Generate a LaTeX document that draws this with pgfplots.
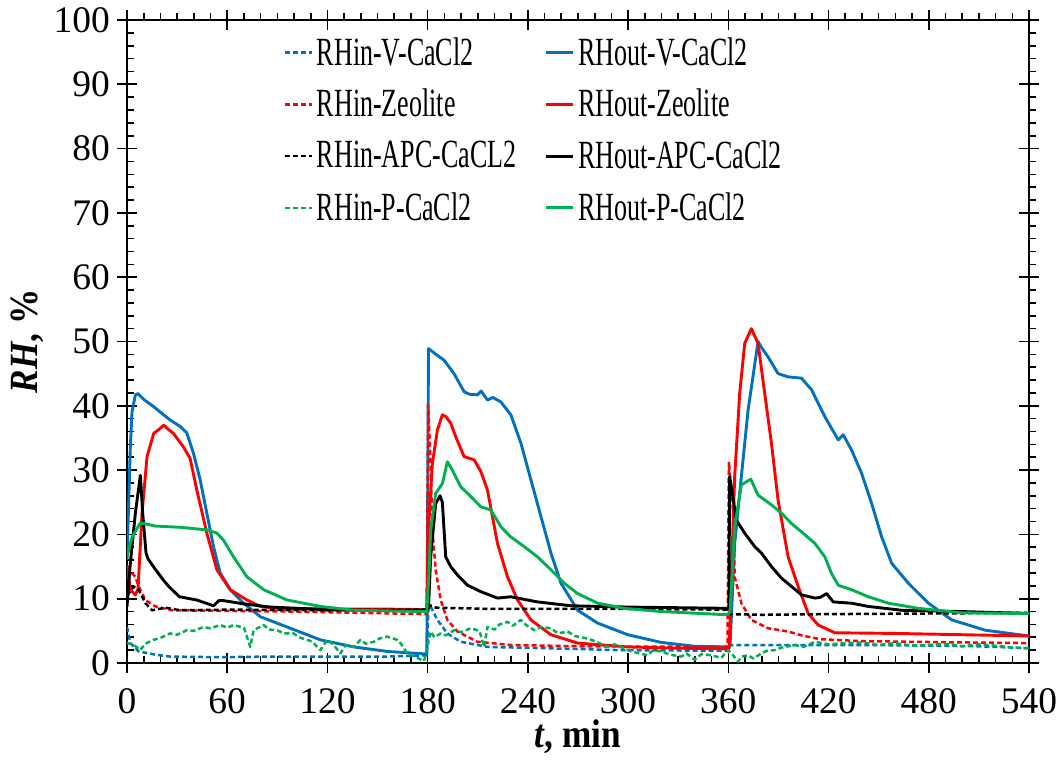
\documentclass[border=0pt]{standalone}
\usepackage{fontspec}
\setmainfont{Liberation Serif}
\usepackage{pgfplots}
\pgfplotsset{compat=1.18}
\definecolor{cblue}{HTML}{0070C0}
\definecolor{cred}{HTML}{FF0000}
\definecolor{cgreen}{HTML}{00B050}
\newcommand{\legtxt}[1]{\scalebox{0.65}[1]{\fontsize{20}{24}\selectfont #1}}
\newcommand{\tl}[1]{\fontsize{18.75}{22}\selectfont #1}
\begin{document}
\begin{tikzpicture}
\useasboundingbox (0,0) rectangle (532pt,383.5pt);
\begin{axis}[
  at={(63.5pt,52pt)}, anchor=south west,
  scale only axis, width=451pt, height=321.5pt,
  xmin=0, xmax=540, ymin=0, ymax=100,
  xtick={0,60,120,180,240,300,360,420,480,540},
  xticklabels={\tl{0},\tl{60},\tl{120},\tl{180},\tl{240},\tl{300},\tl{360},\tl{420},\tl{480},\tl{540}},
  ytick={0,10,20,30,40,50,60,70,80,90,100},
  yticklabels={\tl{0},\tl{10},\tl{20},\tl{30},\tl{40},\tl{50},\tl{60},\tl{70},\tl{80},\tl{90},\tl{100}},
  minor x tick num=5, minor y tick num=4,
  tick align=center, major tick length=10pt, minor tick length=3.5pt,
  minor x tick style={yshift=1.75pt}, minor y tick style={xshift=1.75pt},
  tick style={black, line width=0.8pt},
  axis line style={line width=0.8pt},
  xticklabel style={yshift=-4pt},
  xlabel={\scalebox{0.88}[1]{\bfseries\itshape t\upshape, min}},
  ylabel={\scalebox{0.88}[1]{\bfseries\itshape RH\upshape, \%}},
  label style={font=\fontsize{20}{24}\selectfont},
  xlabel style={at={(axis description cs:0.5,-0.115)}, anchor=center},
  ylabel style={at={(axis description cs:-0.111,0.5)}, anchor=center, rotate=0},
  legend style={draw=none, fill=none, at={(axis description cs:0.173,0.980)}, anchor=north west,
    row sep=6.5pt, inner sep=0pt,
    /tikz/every even column/.append style={column sep=12pt}},
  legend columns=2, legend cell align=left,
  legend image code/.code={\draw[#1] (0pt,0pt) -- (13.5pt,0pt);},
  every axis plot/.append style={line join=round},
]
% RHin-V-CaCl2
\addplot[cblue, line width=1.25pt, dash pattern=on 2.5pt off 1.5pt] coordinates {
(0,5.6) (2,3.1) (7,1.8) (17,1.3) (25.8,1.0) (55.8,0.9) (85,1.0) (115.8,1.0) (155.8,1.0) (179.5,1.2)
(180.5,8.8) (181.8,8.8) (185.8,6.7) (191.8,4.6) (199.8,3.3) (215.8,2.5) (250,2.3) (295.8,2.0) (359.5,1.9)
(360.5,2.8) (400,2.8) (440,2.8) (480,2.7) (510,2.6) (540,2.3)};
\addlegendentry{\legtxt{RHin-V-CaCl2}}
% RHout-V-CaCl2
\addplot[cblue, line width=1.45pt] coordinates {
(0,16) (1,25) (2,33.6) (3,39) (5,41.7) (6.5,41.9) (10,41) (15.8,39.9) (20,39) (25.8,37.8) (31.8,36.8)
(35.8,35.8) (39.8,32.6) (43.8,28.5) (47.8,23.3) (51.8,18.1) (55.8,14) (61.8,11.4) (69.8,9.3) (79.8,7.2)
(95.8,5.6) (115.8,3.6) (135.8,2.5) (155.8,1.8) (179.5,1.4)
(180.5,48.9) (185,48) (189.8,47.1) (195.8,45) (201.8,42.2) (205,41.8) (209.8,41.7) (212,42.3) (215.8,40.9)
(219,41.3) (223.8,40.6) (229.8,38.6) (235.8,34.2) (241.8,28.5) (247.8,22.8) (253.8,17.1) (259.8,12.4)
(269.8,8.2) (281.8,6.2) (299.8,4.4) (319.8,3.2) (339.8,2.6) (359.5,2.5)
(361,2.6) (363.8,18.6) (367.8,29) (371.8,39.3) (377.8,50) (380,49) (383.8,47.6) (389.8,45) (395.8,44.5)
(403.8,44.3) (409.8,42.5) (417.8,38.3) (425.8,34.7) (428.8,35.5) (433.8,33.1) (439.8,29.5) (445.8,24.8)
(451.8,19.6) (457.8,15.5) (467.8,12.4) (479.8,9.3) (493.8,6.7) (513.8,5.1) (540,4.2)};
\addlegendentry{\legtxt{RHout-V-CaCl2}}
% RHin-Zeolite
\addplot[cred, line width=1.25pt, dash pattern=on 2.5pt off 1.5pt] coordinates {
(0,15) (2,14.2) (5,13.4) (7,11.9) (11,9.8) (17,8.8) (27,8.2) (60,8.1) (100,8.0) (140,7.8) (179.5,7.6)
(180.3,40.1) (181.8,31) (182.8,20.7) (184.8,14.5) (187.8,9.8) (191.8,6.7) (197.8,4.9) (209.8,3.3)
(229.8,2.8) (270,2.6) (359.5,2.5)
(360.3,31.3) (362.8,23.8) (363.8,13.4) (367.8,9.3) (373.8,6.7) (383.8,5.4) (395.8,4.9) (403.8,4.3)
(415,3.7) (440,3.4) (500,3.2) (540,3.1)};
\addlegendentry{\legtxt{RHin-Zeolite}}
% RHout-Zeolite
\addplot[cred, line width=1.45pt] coordinates {
(0,15.2) (2,11.4) (5,10.6) (6.6,11.5) (9,23.3) (12,32.1) (16,35.7) (20,36.5) (22,37) (24,36.5)
(27.8,35.7) (33.8,33.6) (37.8,31.8) (41.8,26.9) (47.8,20.2) (53.8,14.5) (61.8,11.4) (71.8,9.8)
(79.8,8.8) (90,8.5) (120,8.4) (150,8.4) (179.5,8.3)
(180.3,20) (182.8,31) (185.8,36.2) (188.8,38.6) (191,38.3) (193.8,37.3) (196.8,35.2) (201.8,32.1)
(207.8,31.6) (211.8,29.8) (215.8,26.9) (221.8,18.6) (227.8,13.4) (233.8,9.8) (241.8,6.7) (253.8,4.4)
(269.8,3.1) (299.8,2.5) (330,2.3) (359.5,2.2)
(360.5,2.3) (361.8,13.4) (363.8,29) (366.8,41.9) (369.8,49.7) (373.8,52) (377.8,49.7) (381.8,41.9)
(385.8,34.2) (389.8,25.3) (395.8,16.5) (401.8,11.9) (407.8,7.7) (413.8,5.9) (423.8,4.7) (460,4.6)
(500,4.4) (540,4.2)};
\addlegendentry{\legtxt{RHout-Zeolite}}
% RHin-APC-CaCL2
\addplot[black, line width=1.25pt, dash pattern=on 2.5pt off 1.5pt] coordinates {
(0,10.5) (1,10.8) (4,11.9) (7,11.4) (11,9.3) (15,8.2) (23,8.6) (32,8.2) (60,8.3) (120,8.2) (179.5,8.3)
(181,9.0) (185,8.6) (220,8.4) (300,8.4) (359.5,8.3)
(361,7.6) (380,7.5) (420,7.6) (480,7.7) (540,7.8)};
\addlegendentry{\legtxt{RHin-APC-CaCL2}}
% RHout-APC-CaCl2
\addplot[black, line width=1.45pt] coordinates {
(0,8.8) (2,15.5) (5,23.3) (8,29.2) (9.4,23.3) (11.4,17.1) (12.6,16.2) (16.6,14.7) (21.8,12.9) (25,11.9)
(31.4,10.3) (41.8,9.8) (51.8,8.9) (55,9.7) (57.8,9.7) (69.8,9.2) (85.8,8.7) (120,8.3) (150,8.2) (179.5,8.2)
(180.5,8.5) (181.8,16.5) (184.8,24.8) (187.4,26) (188.8,25) (190.8,16.5) (193.8,15) (197.8,13.7)
(203.8,12.1) (211.8,11.1) (221.8,10.1) (229.8,10.3) (245.8,9.5) (265.8,8.9) (300,8.7) (330,8.6) (360.3,8.5)
(360.8,29) (361.8,27.4) (364.8,22.2) (369.8,20.2) (375.8,18.1) (379.8,17.1) (385.8,15) (391.8,13.2)
(397.8,11.9) (403.8,10.6) (411.8,10.1) (415,10.2) (418.8,10.8) (422.8,9.5) (433.8,9.3) (443.8,8.8)
(463.8,8.2) (500,8.0) (540,7.7)};
\addlegendentry{\legtxt{RHout-APC-CaCl2}}
% RHin-P-CaCl2
\addplot[cgreen, line width=1.25pt, dash pattern=on 2.5pt off 1.5pt] coordinates {
(0,3.1) (3.8,2.9) (7.8,2.0) (11,3.0) (15.8,3.6) (20,3.9) (25.8,4.6) (30,4.4) (35.8,5.1) (40,5.0) (45.8,5.6)
(50,5.4) (55.8,5.9) (60,5.5) (63.8,5.9) (70,5.5) (73.8,2.5) (75.8,5.1) (81.8,5.9) (85,5.2) (89.8,5.1)
(94,4.6) (99.8,4.6) (103,4.0) (107.8,3.6) (111,3.3) (115.8,2.0) (119.8,3.6) (123,3.0) (127.8,1.5)
(131,2.8) (135.8,2.5) (139.8,3.6) (143,3.0) (147.8,3.3) (151,3.8) (155.8,4.1) (161.8,3.6) (164,3.0)
(167.8,1.5) (173.8,0.8) (177.8,0.3)
(179.8,2.5) (181.8,4.9) (184,4.0) (187.8,4.6) (191,4.3) (195.8,5.1) (200,4.8) (205.8,5.4) (211,5.0)
(213.8,2.5) (215.8,5.6) (220,5.2) (223,6.0) (227.8,6.4) (231,5.8) (235.8,6.7) (239,5.9) (243.8,5.1)
(248,5.6) (253.8,5.4) (258,4.6) (263.8,4.9) (268,4.2) (275.8,3.8) (281,3.3) (287.8,2.5) (292,2.9)
(299.8,2.0) (305,1.6) (311.8,1.2) (315,2.0) (319.8,1.8) (325,1.3) (331.8,1.0) (335,1.5) (339.8,0.5)
(344,1.4) (349.8,1.2) (355.8,0.8) (359.8,2.0)
(362,1.5) (365.8,0.2) (368,1.0) (371.8,1.2) (375,0.7) (379.8,1.5) (383,1.9) (387.8,2.0) (392,2.4)
(399.8,2.8) (405,2.5) (411.8,3.3) (420,2.9) (429.8,3.1) (440,3.2) (450,2.8) (459.8,3.1) (470,2.7)
(479.8,2.8) (490,3.0) (499.8,2.6) (510,2.9) (519.8,2.7) (530,2.4) (539.8,2.3)};
\addlegendentry{\legtxt{RHin-P-CaCl2}}
% RHout-P-CaCl2
\addplot[cgreen, line width=1.45pt] coordinates {
(0,16.5) (3,19.6) (8,21.8) (17,21.3) (32,21.1) (47.8,20.7) (53.8,20.2) (57.8,19.1) (63.8,16.5) (71.8,13.4)
(81.8,11.4) (95.8,9.8) (115.8,8.8) (135.8,8.2) (179.5,8.0)
(181,15) (181.8,20.7) (184.8,26.4) (188.8,27.9) (191.8,31.3) (194.8,30) (199.8,27.4) (205.8,25.9)
(211.8,24.3) (217.8,23.8) (223.8,21.2) (229.8,19.6) (237.8,18.1) (245.8,16.5) (253.8,14.5) (261.8,12.4)
(269.8,10.8) (281.8,9.3) (297.8,8.5) (319.8,8.0) (359.5,7.5)
(361,8) (363.8,21.2) (367.8,27.7) (373.4,28.6) (377.8,26.1) (385.8,24.6) (391.8,23.3) (397.8,21.7)
(403.8,20.4) (411.8,18.6) (417.8,16.5) (421.8,13.9) (425.8,12.1) (433.8,11.4) (443.8,10.3) (455.8,9.3)
(473.8,8.5) (500,7.8) (540,7.7)};
\addlegendentry{\legtxt{RHout-P-CaCl2}}
\end{axis}
\end{tikzpicture}
\end{document}
